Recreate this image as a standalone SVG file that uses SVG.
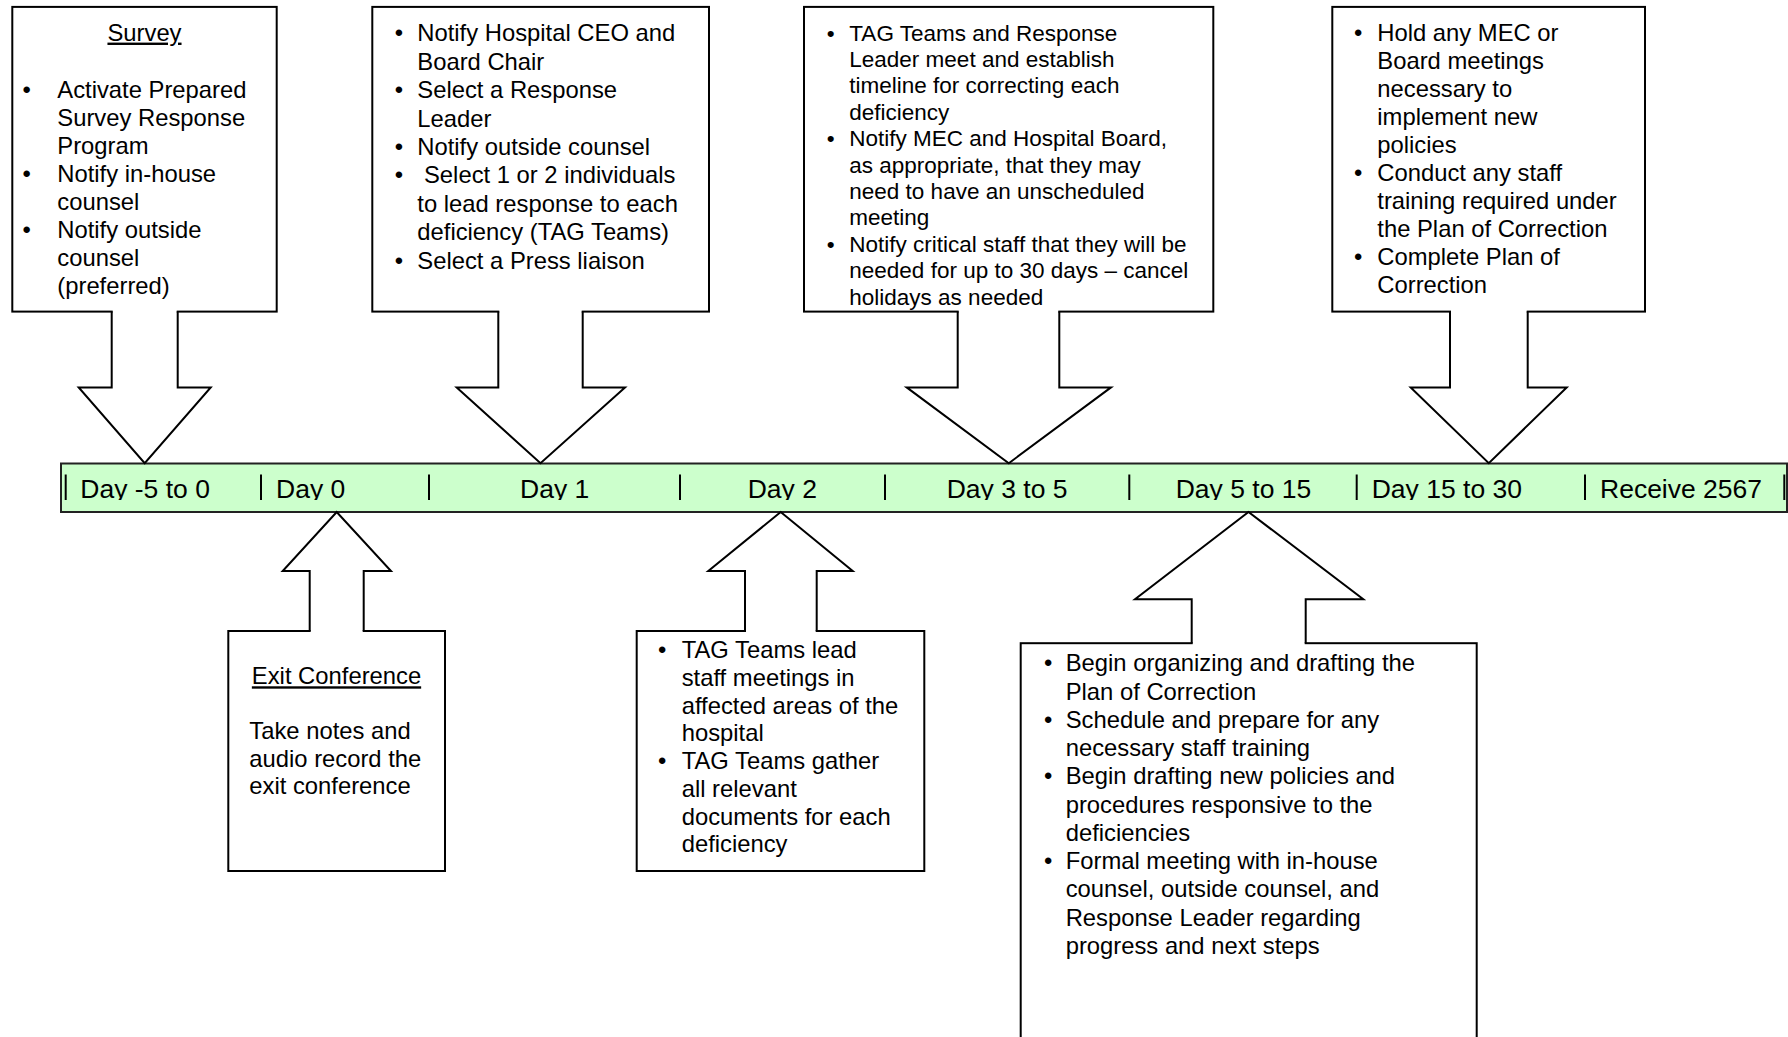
<svg xmlns="http://www.w3.org/2000/svg" width="1788" height="1037" viewBox="0 0 1788 1037">
<style>
.box{fill:#fff;stroke:#000;stroke-width:2}
.af{fill:#fff;stroke:none}
.as{fill:none;stroke:#000;stroke-width:2;stroke-linejoin:miter}
.bar{fill:#CCFFCC;stroke:#222;stroke-width:2}
.sep{stroke:#000;stroke-width:2}
text{font-family:"Liberation Sans",Arial,sans-serif;fill:#000}
.t{font-size:23.8px}
.s{font-size:22.5px}
.lbl{font-size:26.5px}
.u{text-decoration:underline}
</style>
<defs>
<clipPath id="barclip"><rect x="60" y="464" width="1728" height="36"/></clipPath>
</defs>
<rect width="1788" height="1037" fill="#fff"/>

<g id="timeline">
<rect class="bar" x="61" y="463.5" width="1726" height="48.5"/>
<g class="sep">
<line x1="65.7" y1="474.5" x2="65.7" y2="500"/>
<line x1="261" y1="474.5" x2="261" y2="500"/>
<line x1="429" y1="474.5" x2="429" y2="500"/>
<line x1="680" y1="474.5" x2="680" y2="500"/>
<line x1="885" y1="474.5" x2="885" y2="500"/>
<line x1="1129.3" y1="474.5" x2="1129.3" y2="500"/>
<line x1="1356.7" y1="474.5" x2="1356.7" y2="500"/>
<line x1="1585" y1="474.5" x2="1585" y2="500"/>
<line x1="1784.3" y1="474.5" x2="1784.3" y2="500"/>
</g>
<g clip-path="url(#barclip)" class="lbl">
<text class="lbl" x="80.3" y="498.3">Day -5 to 0</text>
<text class="lbl" x="276" y="498.3">Day 0</text>
<text class="lbl" x="520" y="498.3">Day 1</text>
<text class="lbl" x="747.7" y="498.3">Day 2</text>
<text class="lbl" x="946.7" y="498.3">Day 3 to 5</text>
<text class="lbl" x="1175.7" y="498.3">Day 5 to 15</text>
<text class="lbl" x="1371.7" y="498.3">Day 15 to 30</text>
<text class="lbl" x="1600" y="498.3">Receive 2567</text>
</g>
</g>

<g id="survey">
<rect class="box" x="12.3" y="6.9" width="264.4" height="304.7"/>
<text class="t u" x="144.5" y="40.6" text-anchor="middle">Survey</text>
<text class="t" x="22.5" y="98">•</text>
<text class="t" x="22.5" y="182">•</text>
<text class="t" x="22.5" y="238">•</text>
<text class="t"><tspan x="57.3" y="98">Activate Prepared</tspan><tspan x="57.3" y="126">Survey Response</tspan><tspan x="57.3" y="154">Program</tspan><tspan x="57.3" y="182">Notify in-house</tspan><tspan x="57.3" y="210">counsel</tspan><tspan x="57.3" y="238">Notify outside</tspan><tspan x="57.3" y="266">counsel</tspan><tspan x="57.3" y="294">(preferred)</tspan></text>
</g>

<g id="day1">
<rect class="box" x="372.3" y="6.9" width="336.7" height="304.7"/>
<text class="t" x="394.8" y="41.3">•</text>
<text class="t" x="394.8" y="98.1">•</text>
<text class="t" x="394.8" y="154.9">•</text>
<text class="t" x="394.8" y="183.3">•</text>
<text class="t" x="394.8" y="268.5">•</text>
<text class="t"><tspan x="417.3" y="41.3">Notify Hospital CEO and</tspan><tspan x="417.3" y="69.7">Board Chair</tspan><tspan x="417.3" y="98.1">Select a Response</tspan><tspan x="417.3" y="126.5">Leader</tspan><tspan x="417.3" y="154.9">Notify outside counsel</tspan><tspan x="424" y="183.3">Select 1 or 2 individuals</tspan><tspan x="417.3" y="211.7">to lead response to each</tspan><tspan x="417.3" y="240.1">deficiency (TAG Teams)</tspan><tspan x="417.3" y="268.5">Select a Press liaison</tspan></text>
</g>

<g id="day3to5">
<rect class="box" x="804" y="6.9" width="409.3" height="304.7"/>
<text class="s" x="826.7" y="40.6">•</text>
<text class="s" x="826.7" y="146.2">•</text>
<text class="s" x="826.7" y="251.8">•</text>
<text class="s"><tspan x="849.3" y="40.6">TAG Teams and Response</tspan><tspan x="849.3" y="67">Leader meet and establish</tspan><tspan x="849.3" y="93.4">timeline for correcting each</tspan><tspan x="849.3" y="119.8">deficiency</tspan><tspan x="849.3" y="146.2">Notify MEC and Hospital Board,</tspan><tspan x="849.3" y="172.6">as appropriate, that they may</tspan><tspan x="849.3" y="199">need to have an unscheduled</tspan><tspan x="849.3" y="225.4">meeting</tspan><tspan x="849.3" y="251.8">Notify critical staff that they will be</tspan><tspan x="849.3" y="278.2">needed for up to 30 days – cancel</tspan><tspan x="849.3" y="304.6">holidays as needed</tspan></text>
</g>

<g id="day15to30">
<rect class="box" x="1332.3" y="6.9" width="312.7" height="304.7"/>
<text class="t" x="1354" y="41.3">•</text>
<text class="t" x="1354" y="181.3">•</text>
<text class="t" x="1354" y="265.3">•</text>
<text class="t"><tspan x="1377.3" y="41.3">Hold any MEC or</tspan><tspan x="1377.3" y="69.3">Board meetings</tspan><tspan x="1377.3" y="97.3">necessary to</tspan><tspan x="1377.3" y="125.3">implement new</tspan><tspan x="1377.3" y="153.3">policies</tspan><tspan x="1377.3" y="181.3">Conduct any staff</tspan><tspan x="1377.3" y="209.3">training required under</tspan><tspan x="1377.3" y="237.3">the Plan of Correction</tspan><tspan x="1377.3" y="265.3">Complete Plan of</tspan><tspan x="1377.3" y="293.3">Correction</tspan></text>
</g>

<g id="exit">
<rect class="box" x="228.3" y="631" width="216.7" height="240"/>
<text class="t u" x="336.5" y="684.3" text-anchor="middle">Exit Conference</text>
<text class="t"><tspan x="249.3" y="739.3">Take notes and</tspan><tspan x="249.3" y="766.7">audio record the</tspan><tspan x="249.3" y="794">exit conference</tspan></text>
</g>

<g id="day2">
<rect class="box" x="636.7" y="631" width="287.6" height="240"/>
<text class="t" x="658" y="658.3">•</text>
<text class="t" x="658" y="769.1">•</text>
<text class="t"><tspan x="681.7" y="658.3">TAG Teams lead</tspan><tspan x="681.7" y="686">staff meetings in</tspan><tspan x="681.7" y="713.7">affected areas of the</tspan><tspan x="681.7" y="741.4">hospital</tspan><tspan x="681.7" y="769.1">TAG Teams gather</tspan><tspan x="681.7" y="796.8">all relevant</tspan><tspan x="681.7" y="824.5">documents for each</tspan><tspan x="681.7" y="852.2">deficiency</tspan></text>
</g>

<g id="day5to15">
<rect class="box" x="1020.7" y="643.2" width="456" height="420"/>
<text class="t" x="1044" y="671.2">•</text>
<text class="t" x="1044" y="727.7">•</text>
<text class="t" x="1044" y="784.3">•</text>
<text class="t" x="1044" y="869">•</text>
<text class="t"><tspan x="1065.7" y="671.2">Begin organizing and drafting the</tspan><tspan x="1065.7" y="699.5">Plan of Correction</tspan><tspan x="1065.7" y="727.7">Schedule and prepare for any</tspan><tspan x="1065.7" y="756">necessary staff training</tspan><tspan x="1065.7" y="784.3">Begin drafting new policies and</tspan><tspan x="1065.7" y="812.5">procedures responsive to the</tspan><tspan x="1065.7" y="840.8">deficiencies</tspan><tspan x="1065.7" y="869">Formal meeting with in-house</tspan><tspan x="1065.7" y="897.3">counsel, outside counsel, and</tspan><tspan x="1065.7" y="925.6">Response Leader regarding</tspan><tspan x="1065.7" y="953.8">progress and next steps</tspan></text>
</g>

<g id="connectors">
<!-- Survey -> Day -5 to 0 -->
<polygon class="af" points="112.7,309.5 176.7,309.5 176.7,388.4 208.5,388.4 144.7,461.5 80.9,388.4 112.7,388.4"/>
<path class="as" d="M111.7,311.6 V387.4 H78.7 L144.7,463.2 L210.7,387.4 H177.7 V311.6"/>
<!-- Day 1 -->
<polygon class="af" points="499.3,309.5 581.7,309.5 581.7,388.4 622.8,388.4 540.5,461.5 458.9,388.4 499.3,388.4"/>
<path class="as" d="M498.3,311.6 V387.4 H456.7 L540.5,463.2 L625,387.4 H582.7 V311.6"/>
<!-- Day 3 to 5 -->
<polygon class="af" points="958.7,309.5 1058.3,309.5 1058.3,388.4 1108.8,388.4 1008.8,461.5 908.9,388.4 958.7,388.4"/>
<path class="as" d="M957.7,311.6 V387.4 H906.7 L1008.8,463.2 L1111,387.4 H1059.3 V311.6"/>
<!-- Day 15 to 30 -->
<polygon class="af" points="1451,309.5 1526.7,309.5 1526.7,388.4 1564.5,388.4 1488.8,461.5 1412.9,388.4 1451,388.4"/>
<path class="as" d="M1450,311.6 V387.4 H1410.7 L1488.8,463.2 L1566.7,387.4 H1527.7 V311.6"/>
<!-- Exit -> Day 0 -->
<polygon class="af" points="310.7,633 362.7,633 362.7,570 388.8,570 336.7,513.5 284.9,570 310.7,570"/>
<path class="as" d="M309.7,631 V571 H282.7 L336.7,512 L391,571 H363.7 V631"/>
<!-- Day 2 -->
<polygon class="af" points="746,633 815.7,633 815.7,570 850.4,570 780.7,513.5 710.6,570 746,570"/>
<path class="as" d="M745,631 V571 H708.3 L780.7,512 L852.7,571 H816.7 V631"/>
<!-- Day 5 to 15 -->
<polygon class="af" points="1192.7,645.2 1304.7,645.2 1304.7,598.3 1360.5,598.3 1248.5,513.5 1137.8,598.3 1192.7,598.3"/>
<path class="as" d="M1191.7,643.2 V599.3 H1135 L1248.5,512 L1363.3,599.3 H1305.7 V643.2"/>
</g>
</svg>
